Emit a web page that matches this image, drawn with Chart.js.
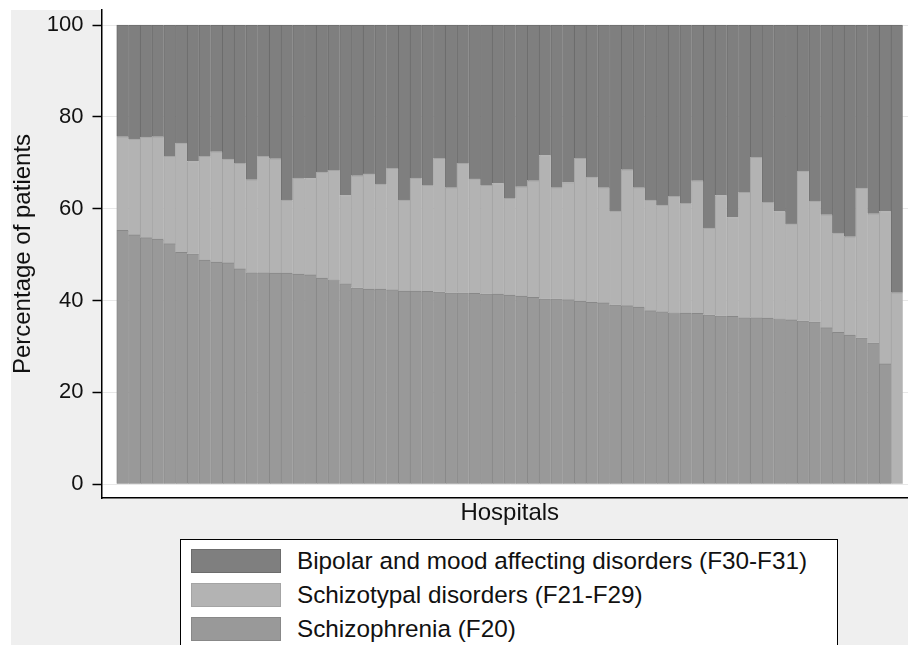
<!DOCTYPE html>
<html>
<head>
<meta charset="utf-8">
<script src="https://cdn.jsdelivr.net/npm/chart.js"></script>
<style>
html, body { margin: 0; padding: 0; overflow: hidden; background: #fff; width: 908px; height: 645px; }
#frame { position: absolute; left: 11px; top: 10px; width: 907px; height: 635px; background: #efefef; }
#wrap { position: absolute; left: 0; top: 0; width: 918px; height: 645px; }
#legend { position: absolute; left: 180px; top: 539px; width: 656px; height: 130px; background: #fff;
  border: 1.5px solid #000; font-family: "Liberation Sans", Arial, sans-serif; font-size: 24.3px; color: #111; }
.item { position: absolute; left: 10px; height: 24px; display: flex; align-items: center; white-space: nowrap; }
.swatch { width: 88px; height: 22px; border: 1px solid; margin-right: 16px; }
</style>
</head>
<body>
<div id="frame"></div>
<div id="wrap"><canvas id="chart" width="918" height="645"></canvas></div>
<div id="legend"></div>
<script>
// Hospitals sorted by share of schizophrenia patients
const hospitals = Array.from({length: 67}, (_, i) => i + 1);

const schizophrenia = [55.3, 54.3, 53.7, 53.4, 52.4, 50.5, 50.2, 48.8, 48.4, 48.2,
  46.9, 46.1, 46.1, 46.0, 46.0, 45.8, 45.6, 44.9, 44.6, 43.7,
  42.8, 42.5, 42.5, 42.4, 42.1, 42.1, 42.0, 41.9, 41.7, 41.7,
  41.6, 41.5, 41.4, 41.2, 41.0, 40.7, 40.4, 40.4, 40.2, 39.9,
  39.6, 39.5, 39.1, 38.9, 38.6, 37.8, 37.6, 37.4, 37.3, 37.2,
  36.9, 36.7, 36.6, 36.3, 36.3, 36.2, 36.1, 35.8, 35.6, 35.4,
  34.1, 33.1, 32.5, 31.9, 30.8, 26.2, 0];

const schizotypal = [20.4, 20.9, 21.9, 22.3, 19.0, 23.8, 20.1, 22.6, 24.0, 22.6,
  23.0, 20.2, 25.3, 24.9, 15.9, 20.9, 21.0, 23.1, 23.8, 19.2,
  24.4, 25.1, 22.9, 26.4, 19.8, 24.6, 23.1, 29.1, 22.9, 28.2,
  24.9, 23.6, 24.1, 21.1, 23.8, 25.4, 31.2, 24.2, 25.5, 31.1,
  27.3, 25.1, 20.4, 29.6, 26.0, 24.1, 23.2, 25.3, 23.9, 28.9,
  18.9, 26.2, 21.5, 27.3, 34.9, 25.2, 23.3, 20.9, 32.6, 26.3,
  24.6, 21.6, 21.4, 32.6, 28.1, 33.2, 41.7];

const bipolar = [24.3, 24.8, 24.4, 24.3, 28.6, 25.7, 29.7, 28.6, 27.6, 29.2,
  30.1, 33.7, 28.6, 29.1, 38.1, 33.3, 33.4, 32.0, 31.6, 37.1,
  32.8, 32.4, 34.6, 31.2, 38.1, 33.3, 34.9, 29.0, 35.4, 30.1,
  33.5, 34.9, 34.5, 37.7, 35.2, 33.9, 28.4, 35.4, 34.3, 29.0,
  33.1, 35.4, 40.5, 31.5, 35.4, 38.1, 39.2, 37.3, 38.8, 33.9,
  44.2, 37.1, 41.9, 36.4, 28.8, 38.6, 40.6, 43.3, 31.8, 38.3,
  41.3, 45.3, 46.1, 35.5, 41.1, 40.6, 58.3];

const yTicks = [0, 20, 40, 60, 80, 100];

Chart.defaults.font.family = '"Liberation Sans", Arial, sans-serif';
Chart.defaults.color = '#111';

// white plot region behind the bars
const plotBg = {
  id: 'plotBg',
  beforeDraw(chart) {
    const {ctx, chartArea: a} = chart;
    ctx.save();
    ctx.fillStyle = '#fff';
    ctx.fillRect(a.left, a.top, a.right - a.left, a.bottom - a.top);
    ctx.restore();
  }
};

const chart = new Chart(document.getElementById('chart').getContext('2d'), {
  type: 'bar',
  data: {
    labels: hospitals,
    datasets: [
      { label: 'Schizophrenia (F20)', data: schizophrenia, backgroundColor: '#999999', borderColor: '#888888' },
      { label: 'Schizotypal disorders (F21-F29)', data: schizotypal, backgroundColor: '#b3b3b3', borderColor: '#a4a4a4' },
      { label: 'Bipolar and mood affecting disorders (F30-F31)', data: bipolar, backgroundColor: '#7f7f7f', borderColor: '#6c6c6c' }
    ]
  },
  options: {
    responsive: false,
    animation: false,
    layout: { padding: { top: 10, left: 0, right: 0, bottom: 0 } },
    datasets: {
      bar: {
        barPercentage: 1,
        categoryPercentage: 1,
        borderWidth: { left: 1, right: 0, top: 1, bottom: 0 },
        borderSkipped: false
      }
    },
    plugins: { legend: { display: false }, tooltip: { enabled: false } },
    scales: {
      x: {
        type: 'linear',
        stacked: true,
        offset: false,
        min: -0.8,
        max: 68.8,
        ticks: { display: false },
        grid: { display: false, offset: false },
        border: { color: '#000', width: 1.5 },
        title: { display: true, text: 'Hospitals', font: { size: 24 }, padding: { top: 0, bottom: 117 } },
        afterFit: s => { s.height = 147; s.paddingLeft = 0; s.paddingRight = 0; }
      },
      y: {
        stacked: true,
        min: -3,
        max: 103.3,
        afterBuildTicks: s => { s.ticks = yTicks.map(v => ({ value: v })); },
        ticks: { font: { size: 22 }, padding: 9 },
        grid: { color: '#e8e8e8', lineWidth: 1, tickColor: '#000', tickLength: 9, tickWidth: 1.5 },
        border: { color: '#000', width: 1.5 },
        title: { display: true, text: 'Percentage of patients', font: { size: 24 }, padding: { top: 9, bottom: 0 } },
        afterFit: s => { s.width = 101.5; s.paddingTop = 0; s.paddingBottom = 0; }
      }
    }
  },
  plugins: [plotBg]
});

// legend box, top series first
const legend = document.getElementById('legend');
chart.data.datasets.slice().reverse().forEach((ds, i) => {
  const item = document.createElement('div');
  item.className = 'item';
  item.style.top = (9 + i * 34) + 'px';
  const sw = document.createElement('span');
  sw.className = 'swatch';
  sw.style.background = ds.backgroundColor;
  sw.style.borderColor = ds.borderColor;
  const txt = document.createElement('span');
  txt.textContent = ds.label;
  item.appendChild(sw);
  item.appendChild(txt);
  legend.appendChild(item);
});
</script>
</body>
</html>
